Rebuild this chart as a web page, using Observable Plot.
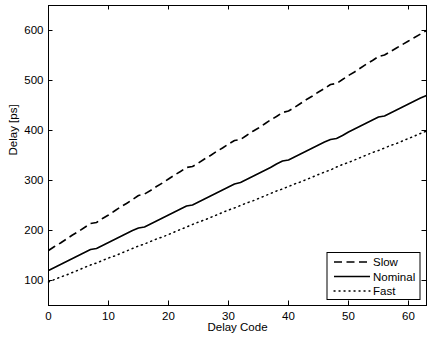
<!DOCTYPE html>
<html>
<head>
<meta charset="utf-8">
<script src="https://cdn.jsdelivr.net/npm/d3@7"></script>
<script src="https://cdn.jsdelivr.net/npm/@observablehq/plot@0.6"></script>
<style>
  html, body { margin: 0; padding: 0; background: #fff; }
  #chart { width: 432px; height: 340px; }
</style>
</head>
<body>
<div id="chart"></div>
<script>
// Delay code 0..63
const codes = d3.range(0, 64);

// Delay per code [ps], one array per process corner
const slow = [
  160,168,175,183,191,198,206,214,
  216,224,231,239,247,254,262,270,
  273,280,288,295,303,311,318,326,
  328,335,343,350,358,365,373,380,
  382,390,398,405,413,421,428,436,
  439,446,454,462,469,477,484,492,
  494,502,510,517,525,533,540,548,
  551,558,565,572,579,586,593,600
];
const nominal = [
  120,126,132,138,144,150,156,162,
  164,170,176,182,188,194,200,205,
  207,213,219,225,231,237,243,249,
  251,257,263,269,275,281,287,293,
  296,302,308,314,320,326,333,339,
  341,347,353,359,365,371,377,382,
  384,390,397,403,409,415,421,427,
  429,435,441,447,453,459,465,470
];
const fast = [
  97,102,107,111,116,121,126,131,
  135,140,145,149,154,159,164,169,
  173,178,183,187,192,197,202,207,
  212,217,221,226,231,236,241,245,
  250,255,259,264,269,274,279,283,
  288,293,297,302,307,312,317,321,
  327,332,336,341,346,351,356,360,
  365,370,374,379,384,389,394,399
];

const seriesNames = ["Slow", "Nominal", "Fast"];
const seriesValues = [slow, nominal, fast];
const dashes = ["8,4.5", null, "1.1,3.9"];

const xTicks = [0, 10, 20, 30, 40, 50, 60];
const yTicks = [100, 200, 300, 400, 500, 600];

const W = 432, H = 340;
const mL = 48, mR = 6, mT = 5, mB = 35;
const innerW = W - mL - mR, innerH = H - mT - mB;
const tickLen = 4.5;

const rows = (vals) => codes.map((c, i) => ({code: c, delay: vals[i]}));

const lineMarks = seriesValues.map((vals, k) =>
  Plot.line(rows(vals), {
    x: "code", y: "delay",
    stroke: "black",
    strokeWidth: k === 2 ? 1.5 : 1.6,
    strokeDasharray: dashes[k],
    strokeLinecap: k === 2 ? "round" : "butt"
  })
);

const chart = Plot.plot({
  width: W,
  height: H,
  marginLeft: mL,
  marginRight: mR,
  marginTop: mT,
  marginBottom: mB,
  style: {fontFamily: "'Liberation Sans', Arial, Helvetica, sans-serif", fontSize: "11.5px", color: "black", background: "white"},
  x: {domain: [0, 63]},
  y: {domain: [50, 650]},
  marks: [
    ...lineMarks,
    // inward ticks on all four sides
    Plot.tickX(xTicks, {x: d => d, insetTop: innerH - tickLen, stroke: "black"}),
    Plot.tickX(xTicks, {x: d => d, insetBottom: innerH - tickLen, stroke: "black"}),
    Plot.tickY(yTicks, {y: d => d, insetRight: innerW - tickLen, stroke: "black"}),
    Plot.tickY(yTicks, {y: d => d, insetLeft: innerW - tickLen, stroke: "black"}),
    Plot.axisX({ticks: xTicks, tickSize: 0, tickPadding: 6, label: null, fontSize: "11.5px"}),
    Plot.axisY({ticks: yTicks, tickSize: 0, tickPadding: 5, label: null, fontSize: "11.5px"}),
    Plot.text(["Delay Code"], {frameAnchor: "bottom", dy: 25.5, text: d => d, fontSize: 11.5}),
    Plot.text(["Delay [ps]"], {frameAnchor: "left", dx: -35, rotate: -90, text: d => d, fontSize: 11.5}),
    Plot.frame({stroke: "black", strokeWidth: 1})
  ]
});

// Legend box in the lower-right corner of the frame
const svg = d3.select(chart);
const lg = svg.append("g").attr("transform", `translate(${mL + innerW - 99},${mT + innerH - 52.5})`);
lg.append("rect").attr("x", 0).attr("y", 0).attr("width", 93).attr("height", 47)
  .attr("fill", "white").attr("stroke", "black").attr("stroke-width", 1);
seriesNames.forEach((name, i) => {
  const yy = 9.5 + i * 14.5;
  lg.append("line").attr("x1", 7).attr("x2", 43).attr("y1", yy).attr("y2", yy)
    .attr("stroke", "black").attr("stroke-width", i === 2 ? 1.3 : 1.6)
    .attr("stroke-dasharray", dashes[i])
    .attr("stroke-linecap", i === 2 ? "round" : "butt");
  lg.append("text").attr("x", 46).attr("y", yy).attr("dy", "0.36em")
    .attr("text-anchor", "start")
    .attr("font-size", "11.5px").attr("fill", "black").text(name);
});

document.getElementById("chart").appendChild(chart);
</script>
</body>
</html>
